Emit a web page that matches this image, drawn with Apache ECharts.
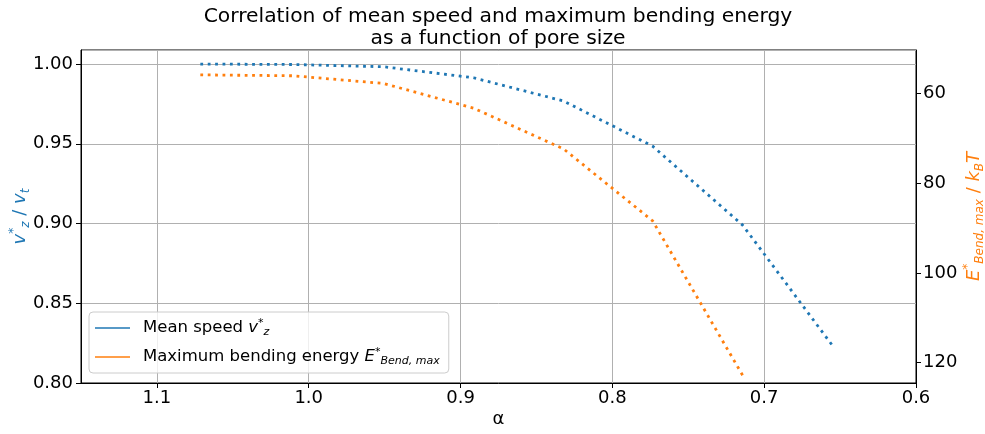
<!DOCTYPE html>
<html>
<head>
<meta charset="utf-8">
<script src="https://cdn.jsdelivr.net/npm/echarts@6/dist/echarts.min.js"></script>
<style>
html,body{margin:0;padding:0;background:#fff;}
#chart{width:985px;height:434px;}
</style>
</head>
<body>
<div id="chart"></div>
<script>
// ---- data ----
const alphaSpeed = [1.0714, 1.0101, 0.9508, 0.8915, 0.8321, 0.7735, 0.7142, 0.6542];
const speedValues = [1.000, 0.9997, 0.9983, 0.9914, 0.9768, 0.9485, 0.8990, 0.8224];
const alphaEnergy = [1.0714, 1.0101, 0.9508, 0.8915, 0.8321, 0.7735, 0.7142];
const energyValues = [55.9, 56.1, 57.8, 63.3, 72.4, 88.4, 122.8];
const xTicks = [0.6, 0.7, 0.8, 0.9, 1.0, 1.1];
const leftTicks = [0.80, 0.85, 0.90, 0.95, 1.00];
const rightTicks = [60, 80, 100, 120];
const seriesNames = ['Mean speed', 'Maximum bending energy'];

const FONT = 'DejaVu Sans';
const BLUE = '#1f77b4';
const ORANGE = '#ff7f0e';
const TICK_FS = 18;

const chart = echarts.init(document.getElementById('chart'), null, {renderer: 'canvas'});

const legendRich = {
  t: {fontSize: 16.5, fontFamily: FONT, lineHeight: 20, verticalAlign: 'middle'},
  i: {fontSize: 16.5, fontFamily: FONT, fontStyle: 'italic', lineHeight: 20, verticalAlign: 'middle'},
  sup: {fontSize: 11, fontFamily: FONT, lineHeight: 20, verticalAlign: 'top'},
  sub: {fontSize: 11, fontFamily: FONT, fontStyle: 'italic', lineHeight: 20, verticalAlign: 'bottom'},
  sp: {width: 8, lineHeight: 20}
};

function nameRich(color) {
  return {
    t: {color: color, fontSize: TICK_FS, fontFamily: FONT, lineHeight: 24, verticalAlign: 'middle'},
    i: {color: color, fontSize: TICK_FS, fontFamily: FONT, fontStyle: 'italic', lineHeight: 24, verticalAlign: 'middle'},
    sup: {color: color, fontSize: 12, fontFamily: FONT, lineHeight: 24, verticalAlign: 'top'},
    sub: {color: color, fontSize: 12, fontFamily: FONT, fontStyle: 'italic', lineHeight: 24, verticalAlign: 'bottom'}
  };
}

const option = {
  animation: false,
  backgroundColor: '#ffffff',
  title: {
    text: 'Correlation of mean speed and maximum bending energy\nas a function of pore size',
    left: 498,
    top: 6,
    padding: 0,
    textAlign: 'center',
    textStyle: {fontFamily: FONT, fontSize: 20.3, fontWeight: 'normal', color: '#000', lineHeight: 22}
  },
  grid: {
    left: 81, right: 69, top: 50, bottom: 51,
    containLabel: false,
    outerBoundsMode: 'none',
    show: true, borderColor: '#000', borderWidth: 1, backgroundColor: 'transparent'
  },
  legend: {
    orient: 'vertical',
    left: 89, top: 312,
    padding: [6, 9, 6, 6],
    itemGap: 9,
    itemWidth: 35, itemHeight: 1.6,
    icon: 'rect',
    backgroundColor: 'rgba(255,255,255,0.8)',
    borderColor: '#cccccc', borderWidth: 1, borderRadius: 4,
    data: seriesNames,
    formatter: function (name) {
      if (name === seriesNames[0]) {
        return '{sp|}{t|Mean speed }{i|v}{sup|*}{sub|z}';
      }
      return '{sp|}{t|Maximum bending energy }{i|E}{sup|*}{sub|Bend, max}';
    },
    textStyle: {color: '#000', fontFamily: FONT, fontSize: 16.5, rich: legendRich}
  },
  xAxis: {
    type: 'value',
    inverse: true,
    min: 0.6, max: 1.15, interval: 0.1,
    name: 'α',
    nameLocation: 'middle',
    nameGap: 27,
    nameMoveOverlap: false,
    nameTextStyle: {fontFamily: FONT, fontSize: TICK_FS, color: '#000'},
    axisLine: {lineStyle: {color: '#000', width: 1}},
    axisTick: {show: true, inside: false, length: 5, lineStyle: {color: '#000'}},
    axisLabel: {
      margin: 6, fontFamily: FONT, fontSize: TICK_FS, color: '#000',
      showMaxLabel: false,
      formatter: v => (xTicks.some(t => Math.abs(t - v) < 1e-6) ? v.toFixed(1) : '')
    },
    splitLine: {show: true, lineStyle: {color: '#b0b0b0', width: 1}}
  },
  yAxis: [
    {
      type: 'value',
      min: 0.8, max: 1.0088, interval: 0.05,
      position: 'left',
      name: '{i|v}{sup|*}{sub|z}{t| / }{i|v}{sub|t}',
      nameLocation: 'middle',
      nameRotate: 90,
      nameGap: 49,
      nameMoveOverlap: false,
      nameTextStyle: {color: BLUE, fontFamily: FONT, fontSize: TICK_FS, rich: nameRich(BLUE)},
      axisLine: {show: true, lineStyle: {color: '#000', width: 1}},
      axisTick: {show: true, length: 5, lineStyle: {color: '#000'}},
      axisLabel: {
        margin: 8, fontFamily: FONT, fontSize: TICK_FS, color: '#000',
        showMaxLabel: false,
        formatter: v => (leftTicks.some(t => Math.abs(t - v) < 1e-6) ? v.toFixed(2) : '')
      },
      splitLine: {show: true, lineStyle: {color: '#b0b0b0', width: 1}}
    },
    {
      type: 'value',
      inverse: true,
      min: 50.36, max: 124.52,
      position: 'right',
      name: '{i|E}{sup|*}{sub|Bend, max}{t| / }{i|k}{sub|B}{i|T}',
      nameLocation: 'middle',
      nameRotate: 90,
      nameGap: 46,
      nameMoveOverlap: false,
      nameTextStyle: {color: ORANGE, fontFamily: FONT, fontSize: TICK_FS, rich: nameRich(ORANGE)},
      axisLine: {show: true, lineStyle: {color: '#000', width: 1}},
      axisTick: {show: true, length: 5, lineStyle: {color: '#000'}, customValues: rightTicks},
      axisLabel: {
        margin: 7, fontFamily: FONT, fontSize: TICK_FS, color: '#000',
        customValues: rightTicks,
        formatter: v => String(Math.round(v))
      },
      splitLine: {show: false}
    }
  ],
  series: [
    {
      name: seriesNames[0],
      type: 'line',
      yAxisIndex: 0,
      data: alphaSpeed.map((a, i) => [a, speedValues[i]]),
      showSymbol: false, symbol: 'none',
      color: BLUE,
      lineStyle: {color: BLUE, width: 2.8, type: [2.8, 4.6], cap: 'butt'}
    },
    {
      name: seriesNames[1],
      type: 'line',
      yAxisIndex: 1,
      data: alphaEnergy.map((a, i) => [a, energyValues[i]]),
      showSymbol: false, symbol: 'none',
      color: ORANGE,
      lineStyle: {color: ORANGE, width: 2.8, type: [2.8, 4.6], cap: 'butt'}
    }
  ]
};
chart.setOption(option);
</script>
</body>
</html>
